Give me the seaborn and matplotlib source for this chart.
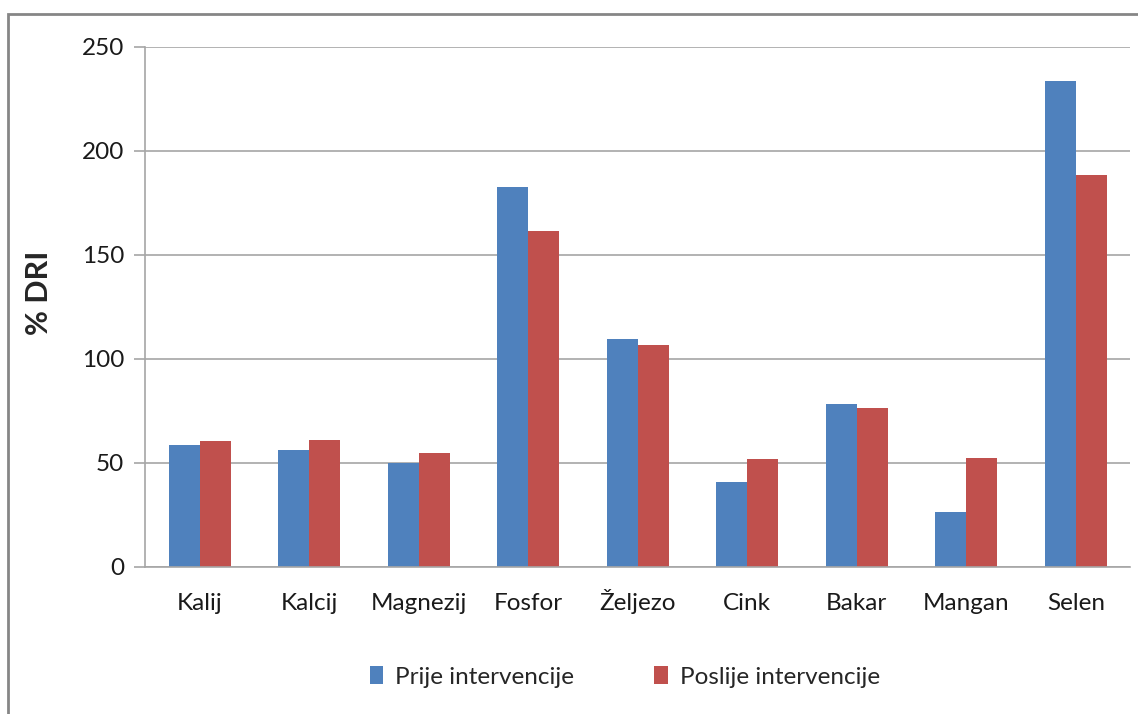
import pandas as pd
import matplotlib
matplotlib.use("Agg")
import matplotlib.pyplot as plt
from matplotlib.patches import Rectangle, Patch
import seaborn as sns

# Data
MINERALS = ["Kalij", "Kalcij", "Magnezij", "Fosfor", "Željezo",
            "Cink", "Bakar", "Mangan", "Selen"]
PRIJE = [58.7, 56.2, 49.8, 182.7, 109.7, 40.7, 78.3, 26.6, 233.7]
POSLIJE = [60.5, 61.0, 55.0, 161.6, 106.8, 51.8, 76.5, 52.5, 188.6]
SERIES = ["Prije intervencije", "Poslije intervencije"]

PALETTE = {
    "Prije intervencije": "#4F81BD",
    "Poslije intervencije": "#C0504D",
}

df = pd.DataFrame({
    "mineral": MINERALS * 2,
    "dri": PRIJE + POSLIJE,
    "serija": [SERIES[0]] * len(MINERALS) + [SERIES[1]] * len(MINERALS),
})

sns.set_style("white")
plt.rcParams["font.family"] = ["Lato", "DejaVu Sans"]

fig = plt.figure(figsize=(11.38, 7.14), dpi=100)
ax = fig.add_axes([0.1274, 0.2059, 0.866, 0.7283])

sns.barplot(
    data=df, x="mineral", y="dri", hue="serija",
    order=MINERALS, hue_order=SERIES, palette=PALETTE,
    width=0.57, saturation=1, errorbar=None, ax=ax, legend=False,
    edgecolor="none",
)

ax.set_xlim(-0.5, len(MINERALS) - 0.5)
ax.set_ylim(0, 250)
ax.set_yticks(range(0, 251, 50))
ax.set_xlabel("")
ax.set_ylabel("% DRI", fontsize=22, fontweight="bold", va="center")
ax.yaxis.set_label_coords(-0.108, 0.527)

ax.yaxis.grid(True, color="#A6A6A6", linewidth=1.2)
ax.set_axisbelow(True)
for side in ["top", "right"]:
    ax.spines[side].set_visible(False)
for side in ["left", "bottom"]:
    ax.spines[side].set_color("#A6A6A6")
    ax.spines[side].set_linewidth(1.2)

# category boundary ticks on x, outward ticks on y
ax.set_xticks([i - 0.5 for i in range(len(MINERALS) + 1)], minor=True)
ax.tick_params(axis="x", which="major", length=0, pad=31, labelsize=17.5,
               colors="#1a1a1a")
for lbl in ax.get_xticklabels():
    lbl.set_verticalalignment("baseline")
ax.tick_params(axis="x", which="minor", length=8, width=1.2,
               color="#A6A6A6", direction="out")
ax.tick_params(axis="y", length=8, width=1.2, color="#A6A6A6",
               labelsize=17.5, labelcolor="#1a1a1a", pad=7, left=True)

handles = [Patch(facecolor=PALETTE[s], edgecolor="none") for s in SERIES]
fig.legend(handles, SERIES, loc="center", bbox_to_anchor=(0.549, 0.052),
           ncol=2, frameon=False, fontsize=17.5, handlelength=0.55,
           handleheight=0.75, handletextpad=0.5, columnspacing=3.3)

# chart area border, running off the right and bottom edges
fig.patches.append(Rectangle((8 / 1138, -0.05), 1.1, 1 - 14 / 714 + 0.05,
                             transform=fig.transFigure, fill=False,
                             edgecolor="#868686", linewidth=2))

fig.savefig("out.png", dpi=100)
